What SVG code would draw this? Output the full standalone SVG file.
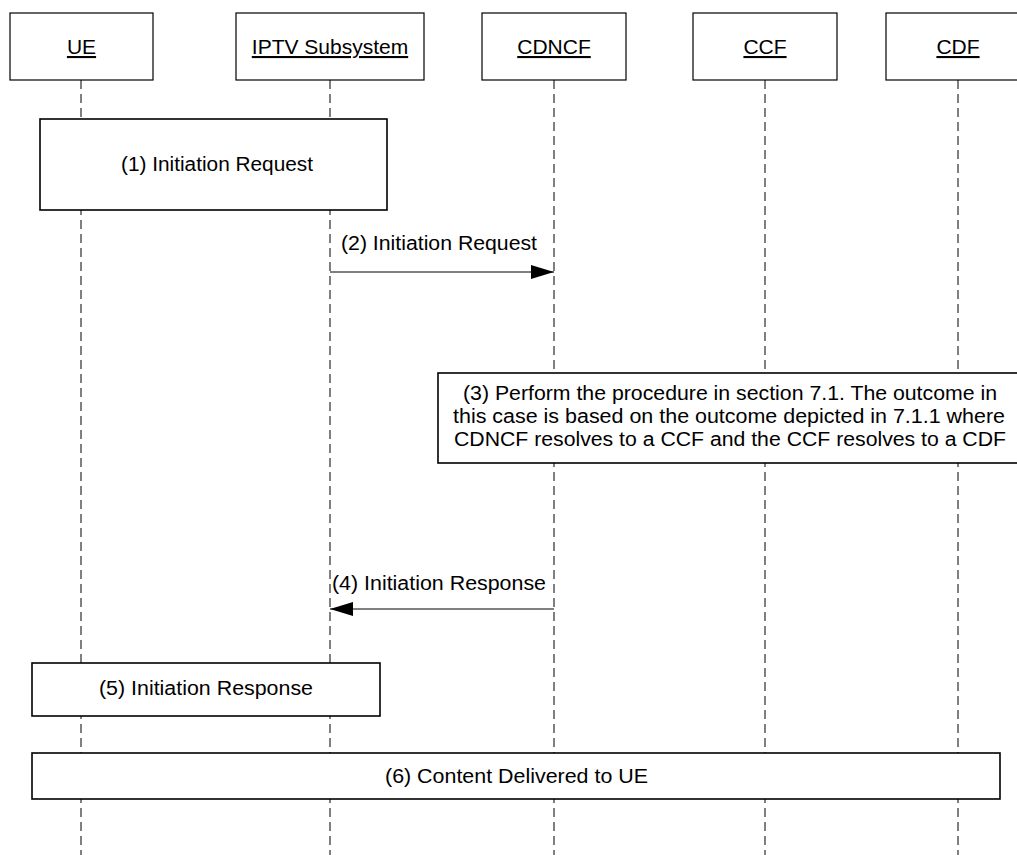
<svg xmlns="http://www.w3.org/2000/svg" width="1017" height="855" viewBox="0 0 1017 855">
<style>
  .hdr { fill: #fff; stroke: #000; stroke-width: 1.2; }
  .box { fill: #fff; stroke: #000; stroke-width: 1.6; }
  .life { stroke: #000; stroke-width: 1; stroke-dasharray: 9 5; fill: none; }
  .msg { stroke: #000; stroke-width: 1; fill: none; }
  .ht { font-family: "Liberation Sans", Arial, sans-serif; font-size: 21px; text-anchor: middle; text-decoration: underline; fill: #000; }
  .t { font-family: "Liberation Sans", Arial, sans-serif; font-size: 20px; fill: #000; }
  .c { text-anchor: middle; }
</style>
<defs>
  <marker id="ah" markerWidth="23" markerHeight="14" refX="23" refY="7" orient="auto" markerUnits="userSpaceOnUse">
    <path d="M0,0 L23,7 L0,14 Z" fill="#000"/>
  </marker>
</defs>
<rect width="1017" height="855" fill="#fff"/>
<g id="lifelines">
  <line class="life" x1="81" y1="80" x2="81" y2="855"/>
  <line class="life" x1="330" y1="80" x2="330" y2="855"/>
  <line class="life" x1="554" y1="80" x2="554" y2="855"/>
  <line class="life" x1="765" y1="80" x2="765" y2="855"/>
  <line class="life" x1="958" y1="80" x2="958" y2="855"/>
</g>
<g id="node-ue">
  <rect class="hdr" x="10" y="13" width="143" height="67"/>
  <text class="ht" x="81.5" y="54">UE</text>
</g>
<g id="node-iptv">
  <rect class="hdr" x="236" y="13" width="188" height="67"/>
  <text class="ht" x="330" y="54">IPTV Subsystem</text>
</g>
<g id="node-cdncf">
  <rect class="hdr" x="482" y="13" width="144" height="67"/>
  <text class="ht" x="554" y="54">CDNCF</text>
</g>
<g id="node-ccf">
  <rect class="hdr" x="693" y="13" width="144" height="67"/>
  <text class="ht" x="765" y="54">CCF</text>
</g>
<g id="node-cdf">
  <rect class="hdr" x="886" y="13" width="144" height="67"/>
  <text class="ht" x="958" y="54">CDF</text>
</g>
<g id="step1">
  <rect class="box" x="40" y="119" width="347" height="91"/>
  <text class="t c" x="217" y="171" textLength="192" lengthAdjust="spacingAndGlyphs">(1) Initiation Request</text>
</g>
<g id="step3">
  <rect class="box" x="438" y="373" width="590" height="90"/>
  <text class="t c" x="730" y="400" textLength="534" lengthAdjust="spacingAndGlyphs">(3) Perform the procedure in section 7.1. The outcome in</text>
  <text class="t c" x="729" y="423" textLength="552" lengthAdjust="spacingAndGlyphs">this case is based on the outcome depicted in 7.1.1 where</text>
  <text class="t c" x="730" y="446" textLength="552" lengthAdjust="spacingAndGlyphs">CDNCF resolves to a CCF and the CCF resolves to a CDF</text>
</g>
<g id="step5">
  <rect class="box" x="32" y="663" width="348" height="53"/>
  <text class="t c" x="206" y="695" textLength="214" lengthAdjust="spacingAndGlyphs">(5) Initiation Response</text>
</g>
<g id="step6">
  <rect class="box" x="32" y="753" width="968" height="46"/>
  <text class="t c" x="516.5" y="783" textLength="263" lengthAdjust="spacingAndGlyphs">(6) Content Delivered to UE</text>
</g>
<g id="connectors">
  <line class="msg" x1="330" y1="272" x2="554" y2="272" marker-end="url(#ah)"/>
  <text class="t" x="341" y="250" textLength="196" lengthAdjust="spacingAndGlyphs">(2) Initiation Request</text>
  <line class="msg" x1="554" y1="609" x2="330" y2="609" marker-end="url(#ah)"/>
  <text class="t" x="332" y="590" textLength="214" lengthAdjust="spacingAndGlyphs">(4) Initiation Response</text>
</g>
</svg>
